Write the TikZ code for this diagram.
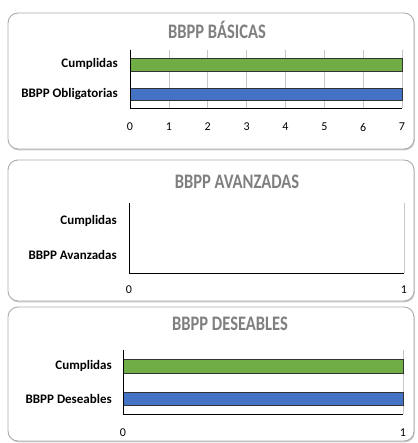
\documentclass[tikz,border=0pt]{standalone}
\usepackage{fontspec}
\setmainfont{Carlito}
\usetikzlibrary{positioning,shadows}
\definecolor{bargreen}{HTML}{70AD47}
\definecolor{barblue}{HTML}{4472C4}
\definecolor{titlegray}{HTML}{7F7F7F}
\newcommand{\ptitle}[1]{\scalebox{1}[1.25]{#1}}
\tikzstyle{panel} = [draw=gray!65, line width=0.9pt, rounded corners=10pt, fill=white, drop shadow={shadow xshift=0.8pt, shadow yshift=-1.4pt, opacity=0.4}]
\tikzstyle{title} = [font=\bfseries\fontsize{16.5}{17}\selectfont, text=titlegray]
\tikzstyle{cat} = [font=\bfseries\fontsize{13}{13}\selectfont, anchor=east, inner sep=0pt]
\tikzstyle{tick} = [font=\fontsize{12}{12}\selectfont, inner sep=0pt]
\tikzstyle{grid} = [draw=gray!45, line width=0.5pt]
\tikzstyle{axis} = [draw=black, line width=0.6pt]
\tikzstyle{bar} = [draw=black!80, line width=0.7pt]

\begin{document}
\begin{tikzpicture}[x=1pt,y=-1pt]

	\useasboundingbox (0,0) rectangle (417,443);

	% panel 1
	\draw [panel] (8,13) rectangle (414,149);
	\node (titlebas) [title] at (217,30) {\ptitle{BBPP BÁSICAS}};
	\foreach \i in {1,...,7}
		\draw [grid] (130+\i*38.86,50) -- (130+\i*38.86,108);
	\fill [bar, fill=bargreen] (130,58) rectangle (402,71);
	\fill [bar, fill=barblue] (130,88) rectangle (402,100);
	\draw [axis] (130,50) -- (130,108) -- (402,108);
	\node (cumbas) [cat] at (118,64) {Cumplidas};
	\node (oblig) [cat] at (118,94) {BBPP Obligatorias};
	\foreach \i in {0,...,7}
		\node (tb\i) [tick] at (130+\i*38.86,127) {\i};

	% panel 2
	\draw [panel] (8,160) rectangle (414,301);
	\node (titleava) [title] at (237,182) {\ptitle{BBPP AVANZADAS}};
	\draw [grid] (404,203) -- (404,273);
	\draw [axis] (129,203) -- (129,273) -- (404,273);
	\node (cumava) [cat] at (117,221) {Cumplidas};
	\node (avanz) [cat] at (117,255) {BBPP Avanzadas};
	\node (ta0) [tick] at (129,290) {0};
	\node (ta1) [tick] at (404,290) {1};

	% panel 3
	\draw [panel] (8,307) rectangle (414,441);
	\node (titledes) [title] at (230,324) {\ptitle{BBPP DESEABLES}};
	\draw [grid] (403,350) -- (403,414);
	\fill [bar, fill=bargreen] (123,359) rectangle (403,373);
	\fill [bar, fill=barblue] (123,392) rectangle (403,405);
	\draw [axis] (123,350) -- (123,414) -- (403,414);
	\node (cumdes) [cat] at (112,366) {Cumplidas};
	\node (deseab) [cat] at (112,399) {BBPP Deseables};
	\node (td0) [tick] at (123,433) {0};
	\node (td1) [tick] at (403,433) {1};

\end{tikzpicture}
\end{document}
